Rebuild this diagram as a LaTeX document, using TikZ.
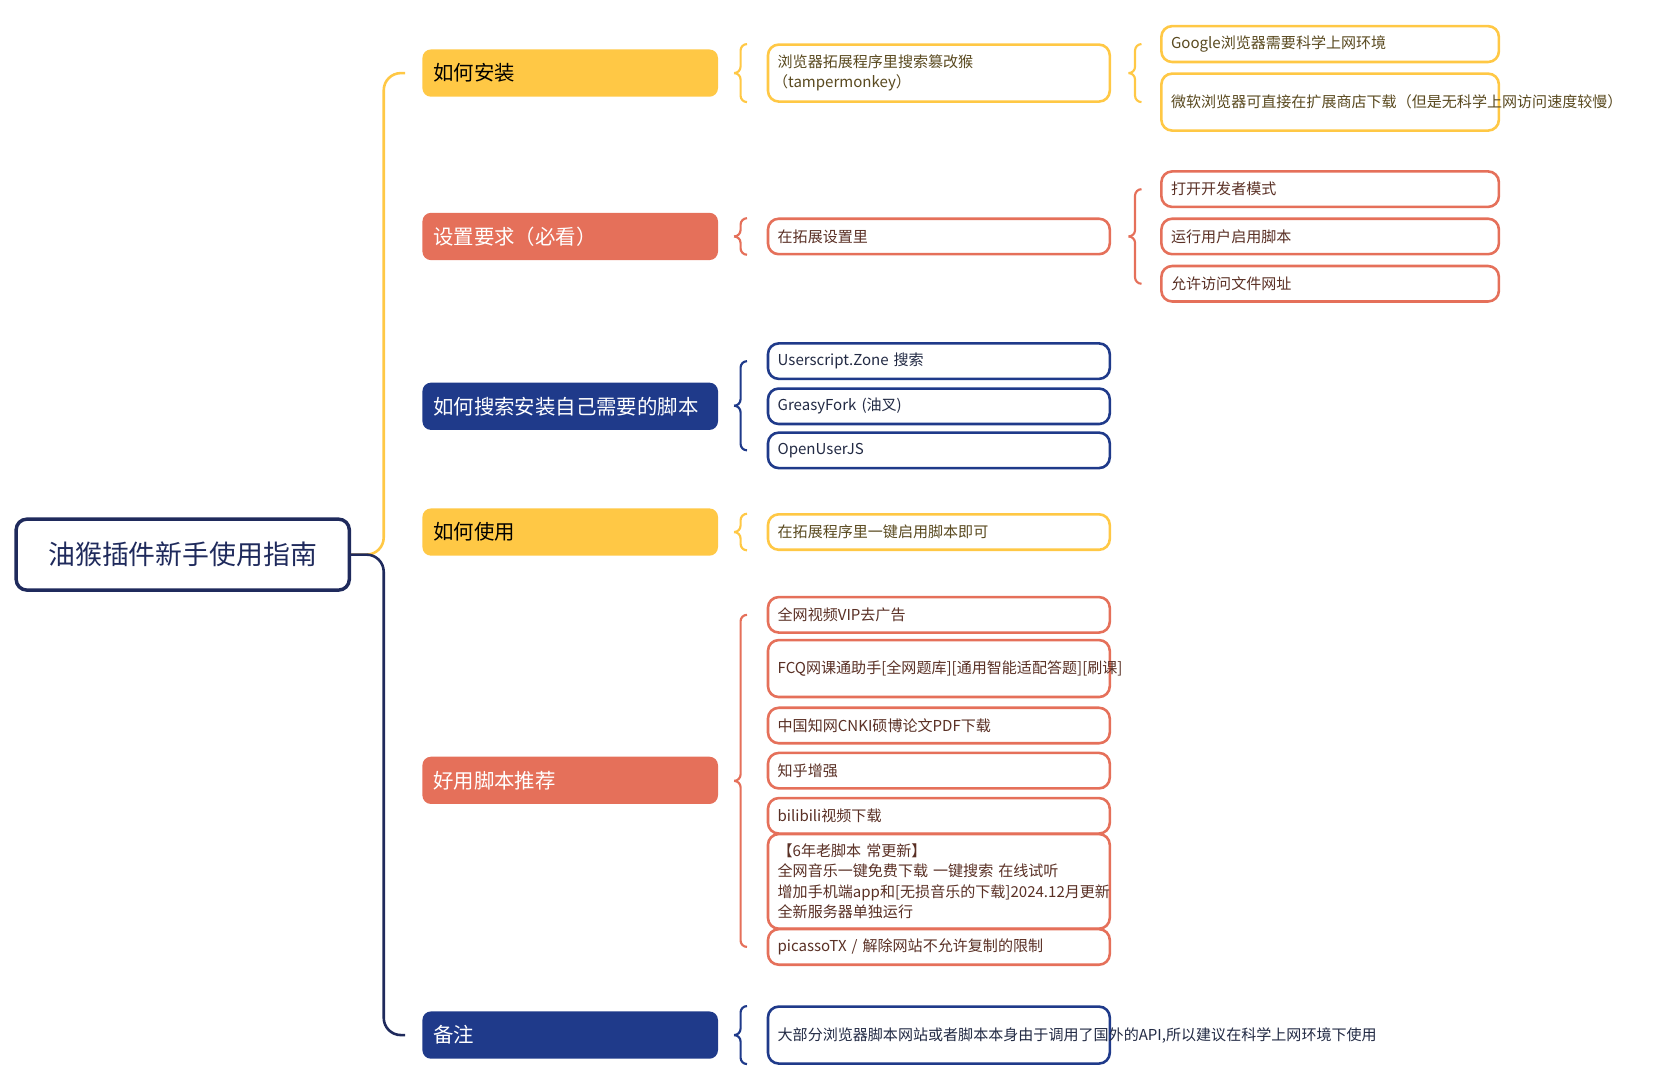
\documentclass[tikz,border=0pt]{standalone}
\usepackage{fontspec}
\setmainfont{Noto Sans CJK SC}
\definecolor{cy}{HTML}{FFC845}
\definecolor{co}{HTML}{E5705A}
\definecolor{cn}{HTML}{1F3A8A}
\definecolor{croot}{HTML}{1F2A5C}
\definecolor{ty}{HTML}{5A4A20}
\definecolor{to}{HTML}{5A3025}
\definecolor{tn}{HTML}{222A44}
\newcommand\mybrace[4]{%
\draw[#4,line width=1pt,rounded corners=3pt] (#1+6,#2) -- (#1,#2) -- (#1,{(#2+#3)/2}) -- (#1-6,{(#2+#3)/2});
\draw[#4,line width=1pt,rounded corners=3pt] (#1+6,#3) -- (#1,#3) -- (#1,{(#2+#3)/2}) -- (#1-6,{(#2+#3)/2});}
\begin{document}
\begin{tikzpicture}[x=0.5pt,y=-0.5pt,
 sec/.style={rounded corners=4pt,minimum height=22pt,text width=127.5pt,inner sep=5pt,align=left,font=\fontsize{9.5}{11}\selectfont},
 leaf/.style={draw=#1,line width=1.2pt,fill=white,rounded corners=5pt,minimum height=16.5pt,text width=150pt,inner sep=4.5pt,align=left,font=\fontsize{7}{9.5}\selectfont},
 sub/.style={leaf=#1,text width=148pt}]
\useasboundingbox (0,0) rectangle (1550,1005);
\node[draw=croot,line width=1.6pt,rounded corners=5pt,minimum width=155pt,minimum height=33pt,font=\fontsize{12.5}{14}\selectfont,text=croot] (root) at (170,516) {油猴插件新手使用指南};
\node[sec,fill=cy,text=black] (s1) at (530.5,68) {如何安装};
\node[sec,fill=co,text=white] (s2) at (530.5,220) {设置要求（必看）};
\node[sec,fill=cn,text=white] (s3) at (530.5,378) {如何搜索安装自己需要的脚本};
\node[sec,fill=cy,text=black] (s4) at (530.5,495) {如何使用};
\node[sec,fill=co,text=white] (s5) at (530.5,726) {好用脚本推荐};
\node[sec,fill=cn,text=white] (s6) at (530.5,963) {备注};
\draw[cy,line width=1.2pt,rounded corners=8pt] (root.east) -- (357,516) -- (357,68) -- (377,68);
\draw[croot,line width=1.2pt,rounded corners=8pt] (root.east) -- (357,516) -- (357,963) -- (377,963);
% leaves
\node[leaf=cy,text=ty,minimum height=26.5pt] (a1) at (873.5,68) {浏览器拓展程序里搜索篡改猴\\\hspace{-0.3em}（tampermonkey）};
\node[sub=cy,text=ty] (a11) at (1237.5,41) {Google浏览器需要科学上网环境};
\node[sub=cy,text=ty,minimum height=26.5pt] (a12) at (1237.5,95) {微软浏览器可直接在扩展商店下载（但是无科学上网访问速度较慢）};
\node[leaf=co,text=to] (b1) at (873.5,220) {在拓展设置里};
\node[sub=co,text=to] (b11) at (1237.5,176) {打开开发者模式};
\node[sub=co,text=to] (b12) at (1237.5,220) {运行用户启用脚本};
\node[sub=co,text=to] (b13) at (1237.5,264) {允许访问文件网址};
\node[leaf=cn,text=tn] (c1) at (873.5,336) {Userscript.Zone 搜索};
\node[leaf=cn,text=tn] (c2) at (873.5,378) {GreasyFork (油叉)};
\node[leaf=cn,text=tn] (c3) at (873.5,419) {OpenUserJS};
\node[leaf=cy,text=ty] (d1) at (873.5,495) {在拓展程序里一键启用脚本即可};
\node[leaf=co,text=to] (e1) at (873.5,572) {全网视频VIP去广告};
\node[leaf=co,text=to,minimum height=26.5pt] (e2) at (873.5,622) {FCQ网课通助手[全网题库][通用智能适配答题][刷课]};
\node[leaf=co,text=to] (e3) at (873.5,675) {中国知网CNKI硕博论文PDF下载};
\node[leaf=co,text=to] (e4) at (873.5,717) {知乎增强};
\node[leaf=co,text=to] (e5) at (873.5,759) {bilibili视频下载};
\node[leaf=co,text=to,minimum height=36pt] (e6) at (873.5,820) {【6年老脚本 常更新】 全网音乐一键免费下载 一键搜索 在线试听 增加手机端app和[无损音乐的下载]2024.12月更新 全新服务器单独运行};
\node[leaf=co,text=to] (e7) at (873.5,881) {picassoTX / 解除网站不允许复制的限制};
\node[leaf=cn,text=tn,minimum height=26.5pt] (f1) at (873.5,963) {大部分浏览器脚本网站或者脚本本身由于调用了国外的API,所以建议在科学上网环境下使用};
% braces
\mybrace{689}{41}{95}{cy}
\mybrace{1056}{41}{95}{cy}
\mybrace{689}{203}{237}{co}
\mybrace{1056}{176}{264}{co}
\mybrace{689}{336}{419}{cn}
\mybrace{689}{478}{512}{cy}
\mybrace{689}{572}{881}{co}
\mybrace{689}{936}{990}{cn}
\end{tikzpicture}
\end{document}
